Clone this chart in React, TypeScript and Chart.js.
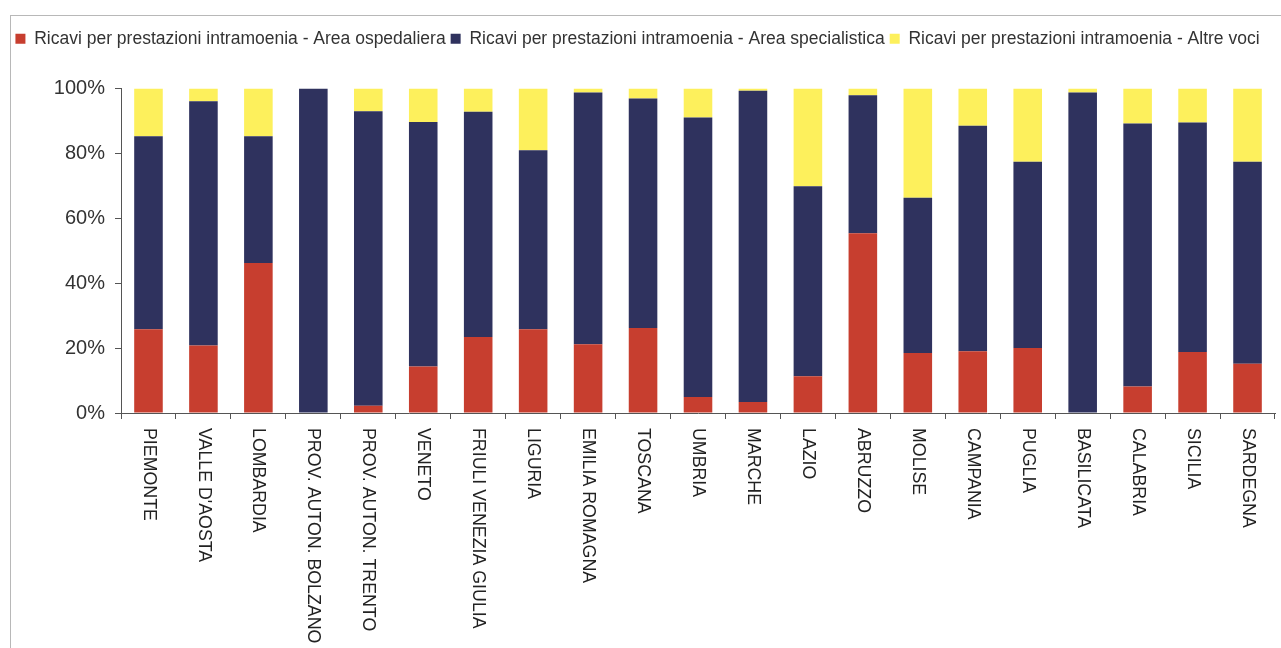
import React, { useEffect, useRef } from "react";
import { Chart, registerables } from "chart.js";

Chart.register(...registerables);

const categories = [
  "PIEMONTE",
  "VALLE D'AOSTA",
  "LOMBARDIA",
  "PROV. AUTON. BOLZANO",
  "PROV. AUTON. TRENTO",
  "VENETO",
  "FRIULI VENEZIA GIULIA",
  "LIGURIA",
  "EMILIA ROMAGNA",
  "TOSCANA",
  "UMBRIA",
  "MARCHE",
  "LAZIO",
  "ABRUZZO",
  "MOLISE",
  "CAMPANIA",
  "PUGLIA",
  "BASILICATA",
  "CALABRIA",
  "SICILIA",
  "SARDEGNA",
];

const areaOspedaliera = [25.8, 20.8, 46.2, 0, 2.2, 14.3, 23.4, 25.8, 21.2, 26.2, 4.9, 3.4, 11.3, 55.4, 18.5, 19.0, 20.0, 0, 8.2, 18.8, 15.2];
const areaSpecialistica = [59.5, 75.3, 39.1, 100, 90.8, 75.4, 69.4, 55.2, 77.6, 70.7, 86.2, 95.9, 58.6, 42.5, 47.8, 69.5, 57.4, 98.8, 81.0, 70.7, 62.2];
const altreVoci = [14.7, 3.9, 14.7, 0, 7.0, 10.3, 7.2, 19.0, 1.2, 3.1, 8.9, 0.7, 30.1, 2.1, 33.7, 11.5, 22.6, 1.2, 10.8, 10.5, 22.6];

const seriesNames = [
  "Ricavi per prestazioni intramoenia - Area ospedaliera",
  "Ricavi per prestazioni intramoenia - Area specialistica",
  "Ricavi per prestazioni intramoenia - Altre voci",
];

const yTicks = [0, 20, 40, 60, 80, 100];

const FONT = "'Liberation Sans', Arial, sans-serif";

const legendGap = {
  id: "legendGap",
  beforeInit(chart: any) {
    const orig = chart.legend.fit;
    chart.legend.fit = function () {
      orig.bind(chart.legend)();
      this.height += 31;
    };
  },
};

const rotatedLabels = {
  id: "rotatedLabels",
  afterDraw(chart: any) {
    const xs = chart.scales.x;
    const ctx = chart.ctx;
    ctx.save();
    ctx.fillStyle = "#222";
    ctx.font = `17.8px ${FONT}`;
    ctx.textAlign = "left";
    ctx.textBaseline = "middle";
    categories.forEach((label, i) => {
      const x = xs.getPixelForTick(i);
      const y = xs.top + 15;
      ctx.save();
      ctx.translate(x, y);
      ctx.rotate(Math.PI / 2);
      ctx.fillText(label, 0, 0);
      ctx.restore();
    });
    ctx.restore();
  },
};

export default function App() {
  const ref = useRef<HTMLCanvasElement>(null);
  useEffect(() => {
    const chart = new Chart(ref.current!, {
      type: "bar",
      data: {
        labels: categories,
        datasets: [
          { label: seriesNames[0], data: areaOspedaliera, backgroundColor: "#C73E2F" },
          { label: seriesNames[1], data: areaSpecialistica, backgroundColor: "#2F325E" },
          { label: seriesNames[2], data: altreVoci, backgroundColor: "#FDF05C" },
        ],
      },
      options: {
        animation: false,
        responsive: false,
        maintainAspectRatio: false,
        layout: { padding: { top: 25, left: 0, right: 6, bottom: 0 } },
        datasets: { bar: { categoryPercentage: 1, barPercentage: 0.52 } },
        plugins: {
          legend: {
            position: "top",
            labels: {
              boxWidth: 10,
              boxHeight: 10,
              padding: 5,
              color: "#333",
              font: { family: FONT, size: 17.5 },
            },
          },
          tooltip: { enabled: false },
        },
        scales: {
          x: {
            stacked: true,
            offset: true,
            grid: { display: true, drawOnChartArea: false, drawTicks: true, tickLength: 6, color: "#555", offset: true },
            border: { display: true, color: "#555" },
            ticks: { display: false },
            afterFit: (s: any) => {
              s.height = 235;
            },
          },
          y: {
            stacked: true,
            min: 0,
            max: 100,
            afterBuildTicks: (s: any) => {
              s.ticks = yTicks.map((v) => ({ value: v }));
            },
            grid: { display: true, drawOnChartArea: false, drawTicks: true, tickLength: 6, color: "#555" },
            border: { display: true, color: "#555" },
            ticks: {
              padding: 10,
              color: "#333",
              font: { family: FONT, size: 20 },
              callback: (v: any) => v + "%",
            },
            afterFit: (s: any) => {
              s.width = 121;
            },
          },
        },
      },
      plugins: [legendGap, rotatedLabels],
    });
    return () => chart.destroy();
  }, []);

  return (
    <div style={{ position: "absolute", left: 0, top: 0, width: 1281, height: 648, background: "#fff", overflow: "hidden" }}>
      <div
        style={{
          position: "absolute",
          left: 10,
          top: 15,
          width: 1400,
          height: 800,
          borderLeft: "1px solid #b8b8b8",
          borderTop: "1px solid #b8b8b8",
        }}
      />
      <canvas ref={ref} width={1281} height={648} style={{ position: "absolute", left: 0, top: 0 }} />
    </div>
  );
}
